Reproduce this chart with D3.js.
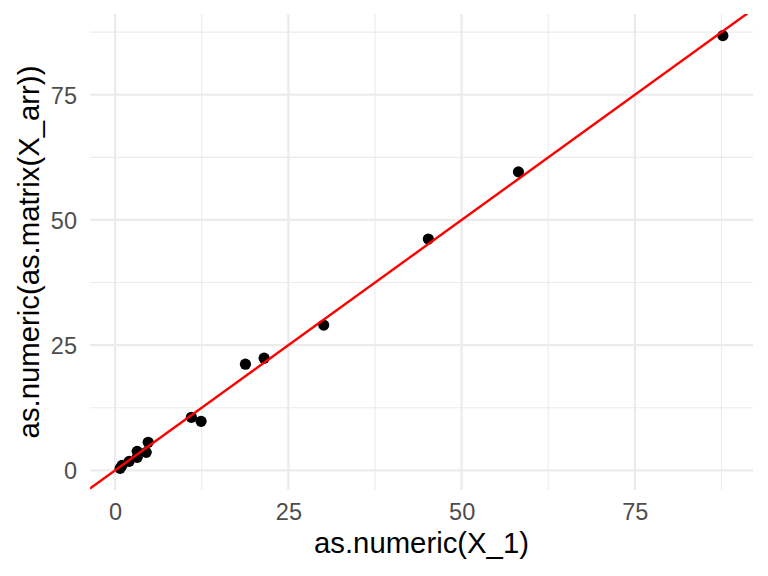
<!DOCTYPE html>
<html>
<head>
<meta charset="utf-8">
<script src="https://cdn.jsdelivr.net/npm/d3@7"></script>
<style>
  html, body { margin: 0; padding: 0; background: #fff; }
  svg { display: block; font-family: "Liberation Sans", Arial, sans-serif; }
</style>
</head>
<body>
<script>
// Data
const xValues = [87.7, 58.2, 45.2, 30.1, 21.5, 18.8, 11.0, 12.4, 4.77, 4.48, 3.18, 3.18, 2.02, 1.0, 0.72];
const yValues = [86.8, 59.6, 46.2, 29.0, 22.4, 21.2, 10.6, 9.8, 5.6, 3.6, 3.8, 2.6, 1.8, 1.0, 0.4];
const majorTicks = [0, 25, 50, 75];
const minorTicks = [12.5, 37.5, 62.5, 87.5];
const refLine = { slope: 1, intercept: 0 };
const xTitle = "as.numeric(X_1)";
const yTitle = "as.numeric(as.matrix(X_arr))";

const W = 768, H = 576;
const panel = { left: 90, right: 753, top: 14, bottom: 490 };

function expand(ext) {
  const r = ext[1] - ext[0];
  return [ext[0] - 0.05 * r, ext[1] + 0.05 * r];
}
const x = d3.scaleLinear().domain(expand(d3.extent(xValues))).range([panel.left, panel.right]);
const y = d3.scaleLinear().domain(expand(d3.extent(yValues))).range([panel.bottom, panel.top]);

const svg = d3.select("body").append("svg").attr("width", W).attr("height", H);

svg.append("defs").append("clipPath").attr("id", "clip")
  .append("rect").attr("x", panel.left).attr("y", panel.top)
  .attr("width", panel.right - panel.left).attr("height", panel.bottom - panel.top);

const grid = svg.append("g");
// minor grid
grid.selectAll(".vminor").data(minorTicks.filter(v => v >= x.domain()[0] && v <= x.domain()[1]))
  .join("line").attr("x1", d => x(d)).attr("x2", d => x(d))
  .attr("y1", panel.top).attr("y2", panel.bottom)
  .attr("stroke", "#EBEBEB").attr("stroke-width", 1.1);
grid.selectAll(".hminor").data(minorTicks.filter(v => v >= y.domain()[0] && v <= y.domain()[1]))
  .join("line").attr("y1", d => y(d)).attr("y2", d => y(d))
  .attr("x1", panel.left).attr("x2", panel.right)
  .attr("stroke", "#EBEBEB").attr("stroke-width", 1.1);
// major grid
grid.selectAll(".vmajor").data(majorTicks)
  .join("line").attr("x1", d => x(d)).attr("x2", d => x(d))
  .attr("y1", panel.top).attr("y2", panel.bottom)
  .attr("stroke", "#EBEBEB").attr("stroke-width", 2.2);
grid.selectAll(".hmajor").data(majorTicks)
  .join("line").attr("y1", d => y(d)).attr("y2", d => y(d))
  .attr("x1", panel.left).attr("x2", panel.right)
  .attr("stroke", "#EBEBEB").attr("stroke-width", 2.2);

// points
const pts = xValues.map((v, i) => ({ x: v, y: yValues[i] }));
svg.append("g").selectAll("circle").data(pts).join("circle")
  .attr("cx", d => x(d.x)).attr("cy", d => y(d.y)).attr("r", 5.6)
  .attr("fill", "#000");

// reference line
const xd = x.domain();
svg.append("line")
  .attr("clip-path", "url(#clip)")
  .attr("x1", x(xd[0])).attr("y1", y(refLine.intercept + refLine.slope * xd[0]))
  .attr("x2", x(xd[1])).attr("y2", y(refLine.intercept + refLine.slope * xd[1]))
  .attr("stroke", "#FF0000").attr("stroke-width", 2.4);

// axes (tick labels only)
const xAxis = d3.axisBottom(x).tickValues(majorTicks).tickSize(0).tickPadding(0).tickFormat(d3.format("d"));
const gx = svg.append("g").attr("transform", `translate(0,${panel.bottom + 13})`).call(xAxis);
gx.select(".domain").remove();
gx.selectAll("text").attr("font-size", 23.5).attr("fill", "#4D4D4D")
  .attr("font-family", "Liberation Sans, Arial, sans-serif")
  .attr("dy", null).attr("y", 0).attr("dominant-baseline", "hanging");

const yAxis = d3.axisLeft(y).tickValues(majorTicks).tickSize(0).tickPadding(0).tickFormat(d3.format("d"));
const gy = svg.append("g").attr("transform", `translate(${panel.left - 13},0)`).call(yAxis);
gy.select(".domain").remove();
gy.selectAll("text").attr("font-size", 23.5).attr("fill", "#4D4D4D")
  .attr("font-family", "Liberation Sans, Arial, sans-serif")
  .attr("dy", "0.36em");

// titles
svg.append("text").attr("x", (panel.left + panel.right) / 2).attr("y", 553)
  .attr("text-anchor", "middle").attr("font-size", 29.3).attr("fill", "#000")
  .text(xTitle);
svg.append("text")
  .attr("transform", `translate(39,${(panel.top + panel.bottom) / 2}) rotate(-90)`)
  .attr("text-anchor", "middle").attr("font-size", 29.3).attr("fill", "#000")
  .text(yTitle);
</script>
</body>
</html>
